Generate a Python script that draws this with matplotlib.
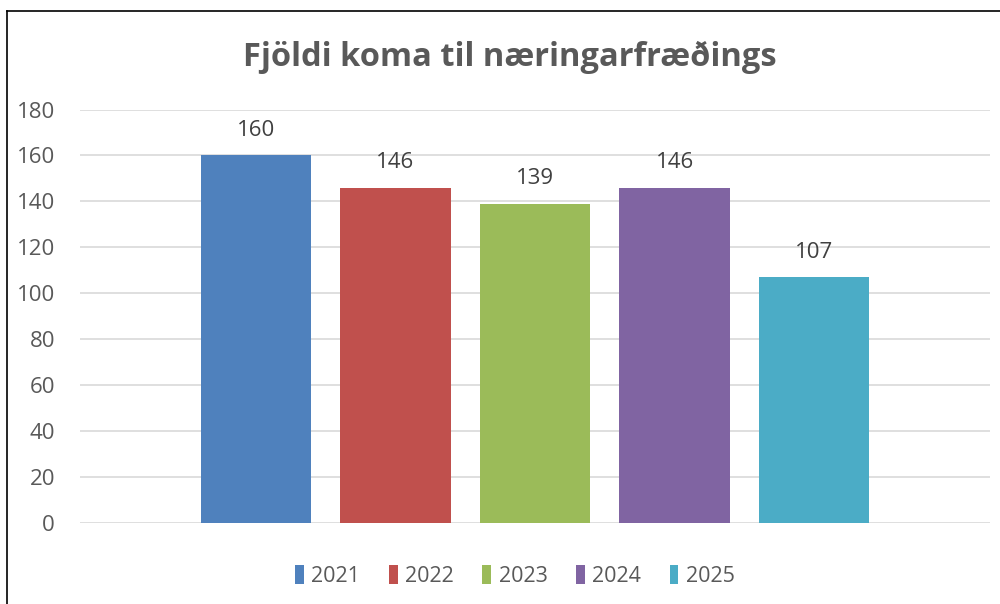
import matplotlib
matplotlib.use("Agg")
import matplotlib.pyplot as plt
from matplotlib.lines import Line2D
from matplotlib.patches import Patch

years = ["2021", "2022", "2023", "2024", "2025"]
values = [160, 146, 139, 146, 107]
colors = ["#4F81BD", "#C0504D", "#9BBB59", "#8064A2", "#4BACC6"]
yticks = [0, 20, 40, 60, 80, 100, 120, 140, 160, 180]
title = "Fjöldi koma til næringarfræðings"

plt.rcParams['font.family'] = ['Open Sans', 'DejaVu Sans']

fig = plt.figure(figsize=(10, 6.04), dpi=100)
ax = fig.add_axes([0.08, 0.1349, 0.91, 0.6838])

pos = list(range(len(years)))
bars = ax.bar(pos, values, width=0.79, color=colors, zorder=3)
for p, v in zip(pos, values):
    ax.text(p, v + 6.3, str(v), ha='center', va='bottom', fontsize=16, color='#404040')

ax.set_xlim(-1.26, 5.26)
ax.set_ylim(0, 180)
ax.set_yticks(yticks)
ax.set_yticklabels([str(t) for t in yticks], fontsize=16, color='#595959')
ax.set_xticks([])
ax.tick_params(axis='y', length=0, pad=18)
ax.yaxis.grid(True, color='#D9D9D9', linewidth=1.2, zorder=0)
for s in ax.spines.values():
    s.set_visible(False)

fig.text(0.51, 0.905, title, ha='center', va='center', fontsize=23.5, fontweight='bold', color='#595959')

handles = [Patch(facecolor=c, edgecolor='none') for c in colors]
fig.legend(handles, years, loc='center', bbox_to_anchor=(0.515, 0.046), ncol=5, frameon=False,
           fontsize=15.5, handlelength=0.4, handleheight=1.0, handletextpad=0.35, columnspacing=1.33,
           labelcolor='#595959')

fig.add_artist(Line2D([0.007, 0.007], [0, 0.982], color='black', linewidth=1.2, transform=fig.transFigure))
fig.add_artist(Line2D([0.007, 1.0], [0.982, 0.982], color='black', linewidth=1.2, transform=fig.transFigure))

fig.savefig("out.png", dpi=100, facecolor='white')
